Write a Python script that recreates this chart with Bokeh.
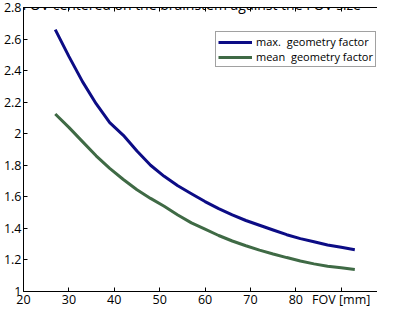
from bokeh.plotting import figure
from bokeh.models import (Range1d, FixedTicker, LinearAxis, Label, Legend, LegendItem)
from bokeh.embed import file_html
from bokeh.resources import INLINE

title_text = "FOV centered on the brainstem against the FOV size"
x_label = "FOV [mm]"

fov = [27, 30, 33, 36, 39, 42, 45, 48, 51, 54, 57, 60, 63, 66, 69, 72, 75, 78, 81, 84, 87, 90, 93]
max_gf = [2.66, 2.49, 2.33, 2.19, 2.07, 1.99, 1.89, 1.80, 1.73, 1.67, 1.62, 1.57, 1.525,
          1.485, 1.45, 1.42, 1.39, 1.36, 1.335, 1.315, 1.295, 1.28, 1.265]
mean_gf = [2.125, 2.04, 1.95, 1.86, 1.78, 1.71, 1.645, 1.59, 1.54, 1.485, 1.435, 1.395, 1.355,
           1.32, 1.29, 1.262, 1.238, 1.215, 1.193, 1.175, 1.16, 1.15, 1.14]
series_names = ["max.  geometry factor", "mean  geometry factor"]

# the last x tick carries the axis title, as in the original
x_ticks = [20, 30, 40, 50, 60, 70, 80, 90]
x_tick_labels = ["20", "30", "40", "50", "60", "70", "80", x_label]
y_ticks = [1, 1.2, 1.4, 1.6, 1.8, 2, 2.2, 2.4, 2.6, 2.8]
y_tick_labels = ["1", "1.2", "1.4", "1.6", "1.8", "2", "2.2", "2.4", "2.6", "2.8"]

FONT = "Open Sans"
BLUE = "#0c0c85"
GREEN = "#3f6a45"

p = figure(width=377, height=310, output_backend="svg", toolbar_location=None,
           x_range=Range1d(20, 98), y_range=Range1d(1, 2.8),
           min_border_left=0, min_border_right=0, min_border_top=7, min_border_bottom=0,
           background_fill_color="white", border_fill_color="white")
p.grid.visible = False
p.outline_line_color = None

def style_axis(ax, ticks, labels, show_labels=True):
    ax.ticker = FixedTicker(ticks=ticks)
    ax.major_label_overrides = {t: l for t, l in zip(ticks, labels)}
    ax.minor_tick_line_color = None
    ax.major_tick_in = 4
    ax.major_tick_out = 0
    ax.major_tick_line_color = "black"
    ax.axis_line_color = "black"
    ax.major_label_text_font = FONT
    ax.major_label_text_color = "black"
    if show_labels:
        ax.major_label_text_font_size = "12.5px"
        ax.major_label_standoff = 2
    else:
        ax.major_label_text_font_size = "0px"
        ax.major_label_standoff = 0

style_axis(p.xaxis[0], x_ticks, x_tick_labels)
p.xaxis[0].major_label_standoff = -1
style_axis(p.yaxis[0], y_ticks, y_tick_labels)

top_ax = LinearAxis()
style_axis(top_ax, x_ticks, ["" for _ in x_ticks], show_labels=False)
p.add_layout(top_ax, "above")

r1 = p.line(fov, max_gf, line_color=BLUE, line_width=3.0)
r2 = p.line(fov, mean_gf, line_color=GREEN, line_width=3.0)

legend = Legend(items=[LegendItem(label=series_names[0], renderers=[r1]),
                       LegendItem(label=series_names[1], renderers=[r2])],
                location=(192, 224))
legend.margin = 0
legend.padding = 2
legend.spacing = 0
legend.glyph_width = 34
legend.glyph_height = 12
legend.label_height = 12
legend.label_standoff = 4
legend.label_text_font = FONT
legend.label_text_font_size = "11px"
legend.label_text_line_height = 1.0
legend.label_text_color = "black"
legend.border_line_color = "#444444"
legend.border_line_width = 1
legend.background_fill_color = "white"
legend.background_fill_alpha = 1
p.add_layout(legend, "center")

p.add_layout(Label(x=19.8, y=2.82, text=title_text, text_font=FONT, text_font_size="14px",
                   text_baseline="alphabetic", text_align="left", text_color="black"))

open("out.html", "w").write(file_html(p, INLINE))
